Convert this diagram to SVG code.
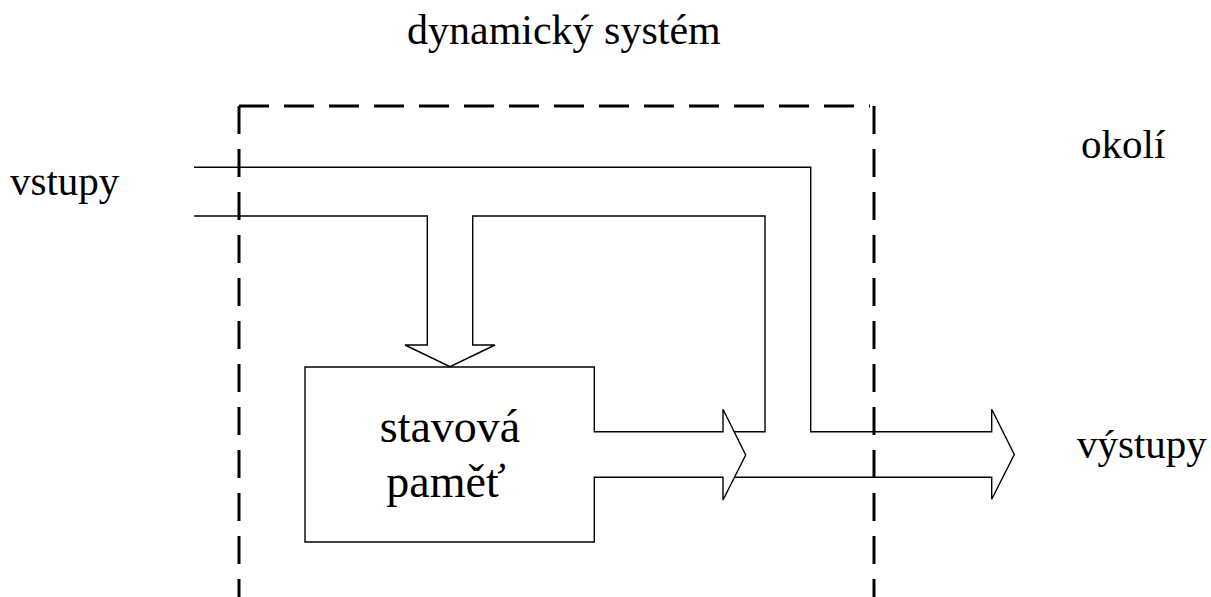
<svg xmlns="http://www.w3.org/2000/svg" width="1211" height="597" viewBox="0 0 1211 597">
<style>
text{font-family:'Liberation Serif','Times New Roman',Times,'DejaVu Serif',serif;fill:#000}
.ln{fill:none;stroke:#000;stroke-width:1.4;stroke-linejoin:miter}
.dash{fill:none;stroke:#000;stroke-width:3}
</style>
<rect width="1211" height="597" fill="#fff"/>
<g id="system-boundary">
<line class="dash" x1="239" y1="106" x2="239" y2="600" stroke-dasharray="28 15"/>
<line class="dash" x1="239" y1="106" x2="870" y2="106" stroke-dasharray="30 15"/>
<line class="dash" x1="874" y1="106" x2="874" y2="600" stroke-dasharray="28 15"/>
</g>
<g id="labels">
<text x="407" y="44" font-size="42" font-family="Liberation Serif, Times New Roman, DejaVu Serif, serif">dynamický systém</text>
<text x="1081" y="158" font-size="41" font-family="Liberation Serif, Times New Roman, DejaVu Serif, serif">okolí</text>
<text x="10" y="195" font-size="41" font-family="Liberation Serif, Times New Roman, DejaVu Serif, serif">vstupy</text>
<text x="1077" y="458" font-size="41" font-family="Liberation Serif, Times New Roman, DejaVu Serif, serif">výstupy</text>
</g>
<g id="stavova-pamet">
<path class="ln" d="M594.3,431.7 V367 H305 V542 H594.3 V477.3 H723 V500 L745.7,455 L723,409.3 V431.7 Z"/>
<text x="450" y="442" font-size="46" text-anchor="middle" font-family="Liberation Serif, Times New Roman, DejaVu Serif, serif">stavová</text>
<text x="446" y="497" font-size="46" text-anchor="middle" font-family="Liberation Serif, Times New Roman, DejaVu Serif, serif">paměť</text>
</g>
<g id="connectors">
<path class="ln" d="M194,167.3 H810.7 V431.7 H991.7 V409.3 L1014.3,454.5 L991.7,499.3 V477.3 H734.5"/>
<path class="ln" d="M194,216 H427.3 V345 H405 L450,366.7 L495,345 H472.7 V216 H765 V431.7 H734.1"/>
</g>
</svg>
